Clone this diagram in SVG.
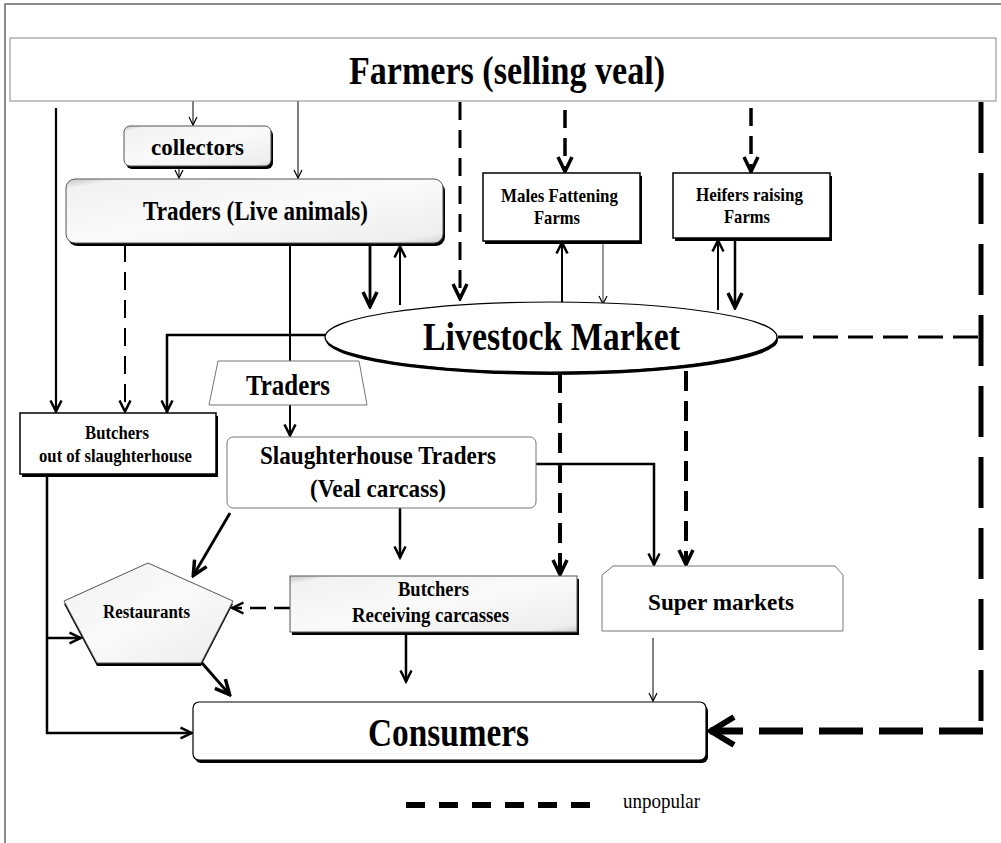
<svg xmlns="http://www.w3.org/2000/svg" width="1001" height="843" viewBox="0 0 1001 843">
<style>
text{font-family:"Liberation Serif","Times New Roman",serif;font-weight:bold;fill:#000}
.n{font-weight:normal}
.ln{fill:none;stroke:#000;stroke-linecap:butt}
.bx{fill:#fff;stroke:#000;stroke-width:1.5}
.gb{fill:#fff;stroke:#777;stroke-width:1}
.sh{fill:#000}
.bev{fill:url(#bev);stroke:#555;stroke-width:1}
</style>
<defs>
<linearGradient id="bev" x1="0" y1="0" x2="1" y2="1">
<stop offset="0" stop-color="#c4c4c4"/>
<stop offset="0.08" stop-color="#f2f2f2"/>
<stop offset="0.5" stop-color="#fafafa"/>
<stop offset="0.92" stop-color="#eeeeee"/>
<stop offset="1" stop-color="#d0d0d0"/>
</linearGradient>
<marker id="aS" markerUnits="userSpaceOnUse" markerWidth="10" markerHeight="10" viewBox="0 0 10 10" refX="9" refY="5" orient="auto">
<path d="M1,1 L9,5 L1,9" fill="none" stroke="#000" stroke-width="1.2"/>
</marker>
<marker id="aM" markerUnits="userSpaceOnUse" markerWidth="14" markerHeight="14" viewBox="0 0 14 14" refX="12.5" refY="7" orient="auto">
<path d="M1,1.5 L12,7 L1,12.5" fill="none" stroke="#000" stroke-width="2.5"/>
</marker>
<marker id="aL" markerUnits="userSpaceOnUse" markerWidth="18" markerHeight="18" viewBox="0 0 18 18" refX="16" refY="9" orient="auto">
<path d="M1,2 L15.5,9 L1,16" fill="none" stroke="#000" stroke-width="3.5"/>
</marker>
<marker id="aX" markerUnits="userSpaceOnUse" markerWidth="30" markerHeight="34" viewBox="0 0 30 34" refX="27" refY="17" orient="auto">
<path d="M3,3 L26,17 L3,31" fill="none" stroke="#000" stroke-width="6"/>
</marker>
</defs>

<rect x="0" y="0" width="1001" height="843" fill="#fff"/>
<path d="M5,843 V4 H1001" fill="none" stroke="#666" stroke-width="1.5"/>

<g id="connectors">
<line class="ln" x1="56" y1="108" x2="56" y2="412" stroke-width="2.2" marker-end="url(#aM)"/>
<line class="ln" x1="193" y1="101" x2="193" y2="125" stroke-width="1" marker-end="url(#aS)"/>
<line class="ln" x1="179" y1="166" x2="179" y2="178" stroke-width="1" marker-end="url(#aS)"/>
<line class="ln" x1="298" y1="101" x2="298" y2="178" stroke-width="1" marker-end="url(#aS)"/>
<line class="ln" x1="460" y1="102" x2="460" y2="299" stroke-width="3" stroke-dasharray="18 10" marker-end="url(#aL)"/>
<line class="ln" x1="565" y1="110" x2="565" y2="172" stroke-width="3.5" stroke-dasharray="18 10" marker-end="url(#aL)"/>
<line class="ln" x1="751" y1="108" x2="751" y2="172" stroke-width="3.5" stroke-dasharray="18 10" marker-end="url(#aL)"/>
<line class="ln" x1="125" y1="244" x2="125" y2="412" stroke-width="2" stroke-dasharray="18 10" marker-end="url(#aM)"/>
<line class="ln" x1="290" y1="244" x2="290" y2="361" stroke-width="2"/>
<line class="ln" x1="370" y1="244" x2="370" y2="307" stroke-width="2.8" marker-end="url(#aL)"/>
<line class="ln" x1="400" y1="305" x2="400" y2="246" stroke-width="2" marker-end="url(#aM)"/>
<line class="ln" x1="562" y1="302" x2="562" y2="242" stroke-width="2" marker-end="url(#aM)"/>
<line class="ln" x1="603" y1="237" x2="603" y2="304" stroke-width="0.8" marker-end="url(#aS)"/>
<line class="ln" x1="718" y1="310" x2="718" y2="240" stroke-width="2" marker-end="url(#aM)"/>
<line class="ln" x1="735" y1="239" x2="735" y2="308" stroke-width="2.5" marker-end="url(#aL)"/>
<polyline class="ln" points="326,335 167,335 167,412" stroke-width="2.5" marker-end="url(#aM)"/>
<line class="ln" x1="778" y1="337" x2="981" y2="337" stroke-width="3" stroke-dasharray="25 10"/>
<line class="ln" x1="560" y1="373" x2="560" y2="575" stroke-width="4" stroke-dasharray="20 10" marker-end="url(#aL)"/>
<line class="ln" x1="686" y1="371" x2="686" y2="565" stroke-width="4" stroke-dasharray="20 10" marker-end="url(#aL)"/>
<line class="ln" x1="290" y1="405" x2="290" y2="436" stroke-width="2" marker-end="url(#aM)"/>
<polyline class="ln" points="536,464 654,464 654,565" stroke-width="2.5" marker-end="url(#aM)"/>
<line class="ln" x1="400" y1="508" x2="400" y2="558" stroke-width="2.5" marker-end="url(#aM)"/>
<line class="ln" x1="230" y1="513" x2="193" y2="576" stroke-width="2.8" marker-end="url(#aL)"/>
<line class="ln" x1="290" y1="608" x2="232" y2="608" stroke-width="2.5" stroke-dasharray="16 8" marker-end="url(#aM)"/>
<line class="ln" x1="406" y1="633" x2="406" y2="682" stroke-width="2.5" marker-end="url(#aM)"/>
<polyline class="ln" points="47,475 47,733 192,733" stroke-width="2.5" marker-end="url(#aM)"/>
<line class="ln" x1="47" y1="638" x2="81" y2="638" stroke-width="2.5" marker-end="url(#aM)"/>
<line class="ln" x1="202" y1="663" x2="230" y2="695" stroke-width="2.8" marker-end="url(#aL)"/>
<line class="ln" x1="653" y1="638" x2="653" y2="701" stroke-width="1" marker-end="url(#aS)"/>
<line class="ln" x1="981" y1="102" x2="981" y2="734" stroke-width="5" stroke-dasharray="51 20"/>
<line class="ln" x1="983" y1="731" x2="710" y2="731" stroke-width="7" stroke-dasharray="44 16" marker-end="url(#aX)"/>
</g>

<g id="farmers">
<rect x="10" y="38" width="986" height="63" fill="#fff" stroke="#888" stroke-width="1"/>
<text x="349" y="84" font-size="40" textLength="316" lengthAdjust="spacingAndGlyphs">Farmers (selling veal)</text>
</g>

<g id="collectors">
<rect x="126" y="129" width="147" height="40" rx="6" class="sh"/>
<rect x="124" y="126" width="147" height="40" rx="6" class="bev"/>
<text x="151" y="155" font-size="24" textLength="93" lengthAdjust="spacingAndGlyphs">collectors</text>
</g>

<g id="traders-live">
<rect x="68" y="182" width="377" height="64" rx="9" class="sh"/>
<rect x="66" y="179" width="377" height="64" rx="9" class="bev"/>
<text x="143" y="220" font-size="27" textLength="225" lengthAdjust="spacingAndGlyphs">Traders (Live animals)</text>
</g>

<g id="males-farms">
<rect x="485" y="176" width="157" height="68" class="sh"/>
<rect x="483" y="173" width="157" height="68" class="bx"/>
<text x="501" y="202" font-size="19" textLength="117" lengthAdjust="spacingAndGlyphs">Males Fattening</text>
<text x="534" y="224" font-size="19" textLength="46" lengthAdjust="spacingAndGlyphs">Farms</text>
</g>

<g id="heifers-farms">
<rect x="675" y="176" width="157" height="65" class="sh"/>
<rect x="673" y="173" width="157" height="65" class="bx"/>
<text x="696" y="201" font-size="19" textLength="107" lengthAdjust="spacingAndGlyphs">Heifers raising</text>
<text x="724" y="223" font-size="19" textLength="46" lengthAdjust="spacingAndGlyphs">Farms</text>
</g>

<g id="livestock-market">
<ellipse cx="552" cy="340" rx="226" ry="35" class="sh"/>
<ellipse cx="551" cy="337" rx="226" ry="35" fill="#fff" stroke="#000" stroke-width="1.2"/>
<text x="423" y="350" font-size="39" textLength="257" lengthAdjust="spacingAndGlyphs">Livestock Market</text>
</g>

<g id="traders">
<polygon points="218,361 359,361 367,405 209,405" class="gb"/>
<text x="246" y="395" font-size="29" textLength="84" lengthAdjust="spacingAndGlyphs">Traders</text>
</g>

<g id="butchers-out">
<rect x="22" y="416" width="196" height="61" class="sh"/>
<rect x="20" y="413" width="196" height="61" class="bx"/>
<text x="85" y="439" font-size="18" textLength="64" lengthAdjust="spacingAndGlyphs">Butchers</text>
<text x="39" y="462" font-size="18" textLength="153" lengthAdjust="spacingAndGlyphs">out of slaughterhouse</text>
</g>

<g id="slaughterhouse-traders">
<rect x="227" y="437" width="309" height="71" rx="6" class="gb"/>
<text x="260" y="464" font-size="26" textLength="236" lengthAdjust="spacingAndGlyphs">Slaughterhouse Traders</text>
<text x="310" y="497" font-size="26" textLength="136" lengthAdjust="spacingAndGlyphs">(Veal carcass)</text>
</g>

<g id="restaurants">
<polygon points="148,566 233,604 201,666 97,666 64,604" class="sh"/>
<polygon points="148,563 233,601 201,663 97,663 64,601" class="bev"/>
<text x="103" y="618" font-size="18" textLength="87" lengthAdjust="spacingAndGlyphs">Restaurants</text>
</g>

<g id="butchers-receiving">
<rect x="292" y="579" width="287" height="56" class="sh"/>
<rect x="290" y="576" width="287" height="56" class="bev"/>
<text x="398" y="596" font-size="20" textLength="71" lengthAdjust="spacingAndGlyphs">Butchers</text>
<text x="352" y="622" font-size="20" textLength="157" lengthAdjust="spacingAndGlyphs">Receiving carcasses</text>
</g>

<g id="super-markets">
<polygon points="602,575 613,566 835,566 843,575 843,631 602,631" class="gb"/>
<text x="648" y="610" font-size="23" textLength="146" lengthAdjust="spacingAndGlyphs">Super markets</text>
</g>

<g id="consumers">
<rect x="195" y="705" width="513" height="58" rx="6" class="sh"/>
<rect x="193" y="702" width="513" height="58" rx="6" fill="#fff" stroke="#000" stroke-width="1.2"/>
<text x="368" y="746" font-size="41" textLength="161" lengthAdjust="spacingAndGlyphs">Consumers</text>
</g>

<g id="legend">
<line class="ln" x1="406" y1="805" x2="590" y2="805" stroke-width="6" stroke-dasharray="19 14"/>
<text x="623" y="808" class="n" font-size="22" textLength="77" lengthAdjust="spacingAndGlyphs">unpopular</text>
</g>
</svg>
